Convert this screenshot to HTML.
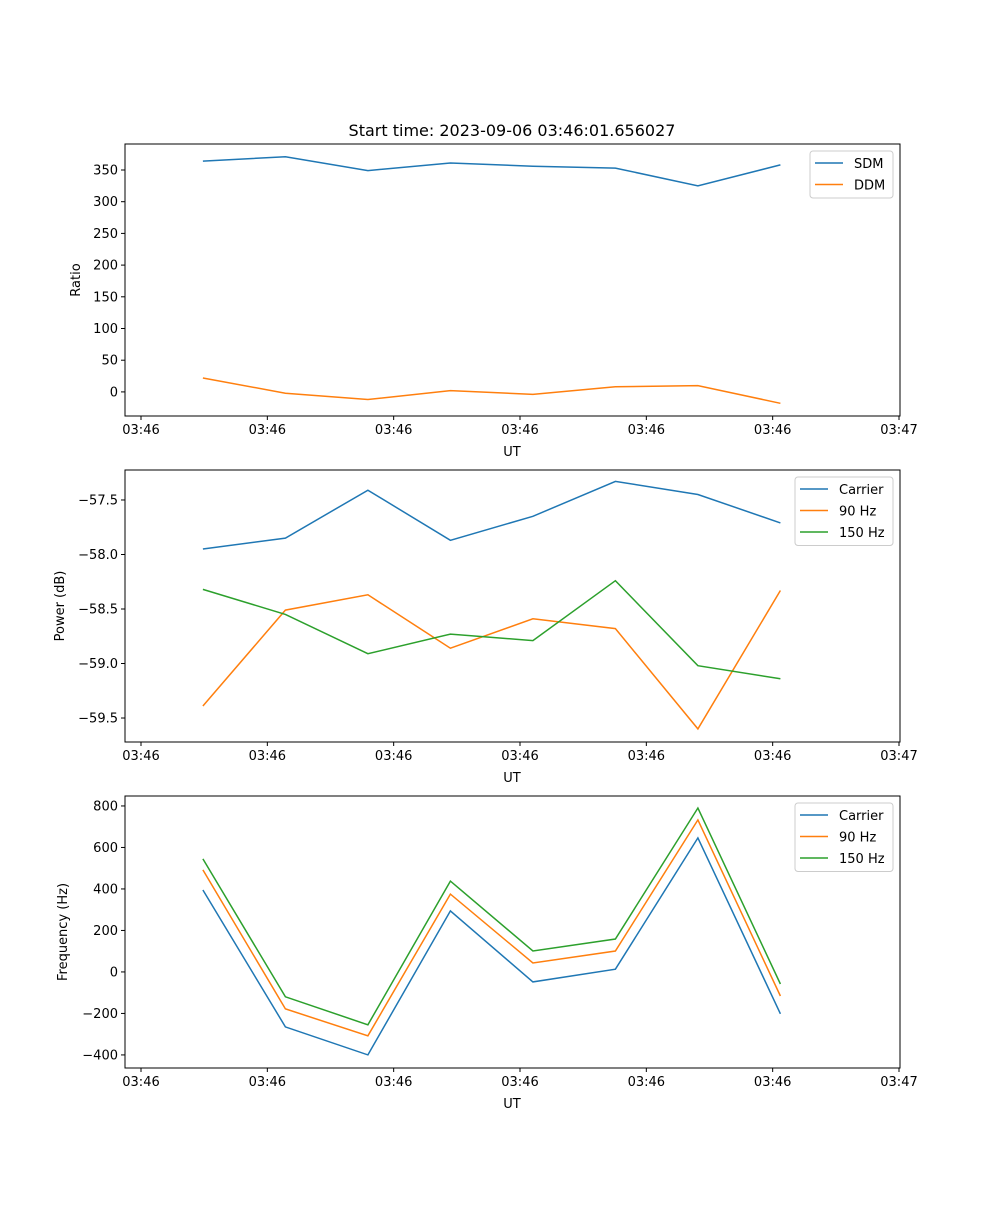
<!DOCTYPE html>
<html><head><meta charset="utf-8"><style>
body{margin:0;background:#fff}
svg text{font-family:"DejaVu Sans","Liberation Sans",sans-serif;fill:#000}
</style></head><body>
<svg id="fig" width="1000" height="1200" viewBox="0 0 1000 1200" xmlns="http://www.w3.org/2000/svg">
<rect width="1000" height="1200" fill="#fff"/>
<text x="512" y="136" font-size="16" text-anchor="middle">Start time: 2023-09-06 03:46:01.656027</text>
</svg>
<script>
const times = [4.9, 11.43, 17.96, 24.49, 31.02, 37.55, 44.08, 50.61];
const xTickValues = [0, 10, 20, 30, 40, 50, 60];
const xTickLabels = ["03:46","03:46","03:46","03:46","03:46","03:46","03:47"];
const sdm = [364, 371, 349, 361, 356, 353, 325, 358];
const ddm = [22, -2, -12, 2, -4, 8, 10, -18];
const ratioTicks = [0, 50, 100, 150, 200, 250, 300, 350];
const powCarrier = [-57.95, -57.85, -57.41, -57.87, -57.65, -57.33, -57.45, -57.71];
const pow90 = [-59.39, -58.51, -58.37, -58.86, -58.59, -58.68, -59.60, -58.33];
const pow150 = [-58.32, -58.55, -58.91, -58.73, -58.79, -58.24, -59.02, -59.14];
const powTicks = [-57.5, -58.0, -58.5, -59.0, -59.5];
const powTickLabels = ["\u221257.5","\u221258.0","\u221258.5","\u221259.0","\u221259.5"];
const freqCarrier = [395, -265, -400, 294, -48, 13, 646, -202];
const freq90 = [492, -178, -308, 375, 43, 101, 733, -116];
const freq150 = [545, -120, -255, 438, 101, 159, 790, -58];
const freqTicks = [800, 600, 400, 200, 0, -200, -400];
const freqTickLabels = ["800","600","400","200","0","\u2212200","\u2212400"];
const ratioTickLabels = ratioTicks.map(String);

const NS = "http://www.w3.org/2000/svg";
const svg = document.getElementById('fig');
const L = 125, R = 900;
const xScale = t => 141 + (t - 0) * (899 - 141) / 60;
function mk(tag, attrs, parent){const e=document.createElementNS(NS,tag);for(const k in attrs)e.setAttribute(k,attrs[k]);(parent||svg).appendChild(e);return e;}

function panel(id, top, bottom, ymin, ymax, yTicks, yLabels, ylabel, series, legend){
  const g = mk('g',{});
  
  
  const yScale = v => bottom - (v - ymin) * (bottom - top) / (ymax - ymin);
  series.forEach(s=>{
    const p = mk('polyline',{points:s.vals.map((v,i)=>xScale(times[i]).toFixed(1)+','+yScale(v).toFixed(1)).join(' '),fill:'none',stroke:s.color,'stroke-width':1.5},g);
    
    
  });
  const fr = mk('rect',{x:L,y:top,width:R-L,height:bottom-top,fill:'none',stroke:'#000','stroke-width':1},g);
  
  
  xTickValues.forEach((t,i)=>{
    const x = xScale(t);
    mk('line',{x1:x,x2:x,y1:bottom,y2:bottom+4,stroke:'#000'},g);
    const tx = mk('text',{x:x,y:bottom+18,'font-size':13,'text-anchor':'middle'},g);
    tx.textContent = xTickLabels[i];
    
    
  });
  const xl = mk('text',{x:512,y:bottom+40,'font-size':13,'text-anchor':'middle'},g);
  xl.textContent = 'UT';
  
  
  yTicks.forEach((v,i)=>{
    const y = yScale(v);
    mk('line',{x1:L-4,x2:L,y1:y,y2:y,stroke:'#000'},g);
    const tx = mk('text',{x:L-7,y:y+4.5,'font-size':13,'text-anchor':'end'},g);
    tx.textContent = yLabels[i];
    
    
  });
  const yl = mk('text',{x:0,y:0,'font-size':13,'text-anchor':'middle',transform:`translate(${legend.ylx},${(top+bottom)/2}) rotate(-90)`},g);
  yl.textContent = ylabel;
  
  
  const lg = mk('g',{},g);
  
  
  const h = 4 + series.length*21.5;
  mk('rect',{x:legend.x,y:top+7,width:R-7-legend.x,height:h,rx:3,fill:'#fff','fill-opacity':0.8,stroke:'#ccc'},lg);
  series.forEach((s,i)=>{
    const y = top+19+i*21.5;
    mk('line',{x1:legend.x+5,x2:legend.x+33,y1:y,y2:y,stroke:s.color,'stroke-width':1.5},lg);
    const tx = mk('text',{x:legend.x+44,y:y+5,'font-size':13},lg);
    tx.textContent = s.label;
    
    
  });
}
const C1='#1f77b4',C2='#ff7f0e',C3='#2ca02c';
panel('ratio',144,416,-38,391,ratioTicks,ratioTickLabels,'Ratio',
  [{key:'sdm',vals:sdm,color:C1,label:'SDM'},{key:'ddm',vals:ddm,color:C2,label:'DDM'}],{x:810,ylx:80});
panel('power',470,742,-59.72,-57.225,powTicks,powTickLabels,'Power (dB)',
  [{key:'carrier',vals:powCarrier,color:C1,label:'Carrier'},{key:'90hz',vals:pow90,color:C2,label:'90 Hz'},{key:'150hz',vals:pow150,color:C3,label:'150 Hz'}],{x:795,ylx:64});
panel('frequency',796,1068,-463,848,freqTicks,freqTickLabels,'Frequency (Hz)',
  [{key:'carrier',vals:freqCarrier,color:C1,label:'Carrier'},{key:'90hz',vals:freq90,color:C2,label:'90 Hz'},{key:'150hz',vals:freq150,color:C3,label:'150 Hz'}],{x:795,ylx:67});
</script>
</body></html>
